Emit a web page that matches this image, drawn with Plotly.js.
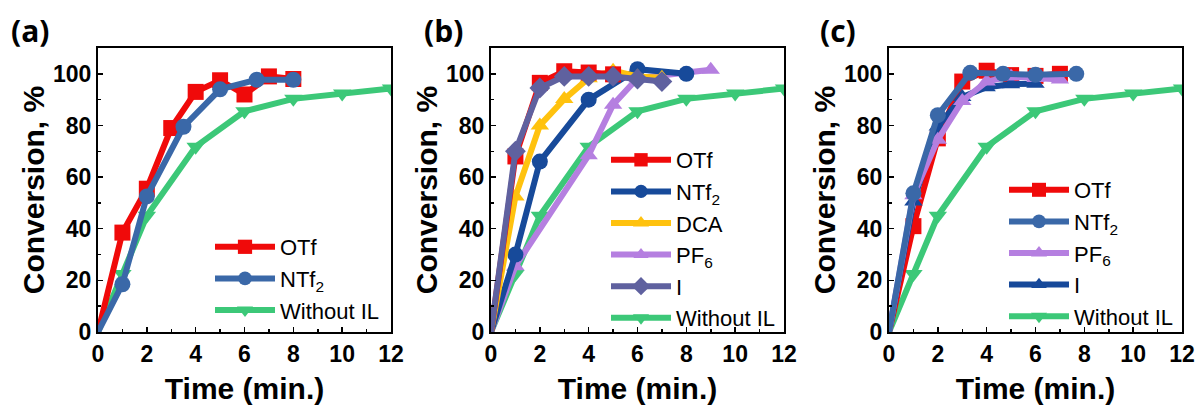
<!DOCTYPE html>
<html>
<head>
<meta charset="utf-8">
<script src="https://cdn.plot.ly/plotly-3.0.1.min.js"></script>
<style>
html,body{margin:0;padding:0;background:#fff;}
#chart{width:1198px;height:407px;}
</style>
</head>
<body>
<div id="chart"></div>
<script>
// ---------- Data ----------
// Panel (a)
const a_otf_t  = [0, 1, 2, 3, 4, 5, 6, 7, 8];
const a_otf_c  = [0, 38.5, 55.5, 79, 93, 97.5, 92, 99, 98];
const a_ntf_t  = [0, 1, 2, 3.5, 5, 6.5, 8];
const a_ntf_c  = [0, 18.5, 52.5, 79.5, 94, 97.7, 97.7];
// Without IL (same control in all panels)
const noil_t   = [0, 1, 2, 4, 6, 8, 10, 12];
const noil_c   = [0, 22.5, 45, 71.8, 85.5, 90.3, 92.4, 94.3];

// Panel (b)
const b_otf_t  = [0, 1, 2, 3, 4, 5];
const b_otf_c  = [0, 68, 96.5, 101, 100.5, 99.8];
const b_ntf_t  = [0, 1, 2, 4, 6, 8];
const b_ntf_c  = [0, 30, 66, 90, 101.8, 100];
const b_dca_t  = [0, 1, 2, 3, 4, 5, 6, 7];
const b_dca_c  = [0, 52.5, 80, 90.2, 98.3, 101.2, 99, 98.5];
const b_pf6_t  = [0, 1, 4, 5, 6, 9];
const b_pf6_c  = [0, 25.5, 68.5, 88, 98.3, 101.6];
const b_i_t    = [0, 1, 2, 3, 4, 5, 6, 7];
const b_i_c    = [0, 70, 94.5, 99, 99, 99, 98, 97];

// Panel (c)
const c_otf_t  = [0, 1, 2, 3, 4, 5, 6, 7];
const c_otf_c  = [0, 41, 75, 97, 101.2, 99.5, 99.2, 100];
const c_ntf_t  = [0, 1, 2, 3.33, 4.67, 6, 7.67];
const c_ntf_c  = [0, 53.7, 84, 100.4, 100, 99.6, 100];
const c_pf6_t  = [0, 1, 2, 3, 4, 5, 6, 7];
const c_pf6_c  = [0, 53, 74.5, 89.5, 97, 99, 98.4, 97.8];
const c_i_t    = [0, 1, 2, 3, 4, 5, 6];
const c_i_c    = [0, 50.5, 79.6, 91, 94.8, 96, 96.2];

const xTickVals = [0, 2, 4, 6, 8, 10, 12];
const yTickVals = [0, 20, 40, 60, 80, 100];

// ---------- Styles ----------
const RED = '#f00a0a', NAVY = '#174a9a', STEEL = '#3a68a8', YEL = '#ffc20e',
      LILAC = '#b57fe0', SLATE = '#5f619f', GREEN = '#3cc878', DBLUE = '#17499a';
const LW = 6, MS = 16;

function tr(x, y, name, color, symbol, xa, ya, leg, rank) {
  return {
    x: x, y: y, name: name, type: 'scatter', mode: 'lines+markers',
    xaxis: xa, yaxis: ya, legend: leg, legendrank: rank,
    line: {color: color, width: LW},
    // no marker drawn at the origin point, as in the reference
    marker: {color: color, symbol: symbol, opacity: 1, line: {width: 0},
             size: x.map(v => v === 0 ? 0 : MS)},
    cliponaxis: true
  };
}

const data = [
  // (a)
  tr(noil_t, noil_c, 'Without IL', GREEN, 'triangle-down', 'x', 'y', 'legend', 9),
  tr(a_otf_t, a_otf_c, 'OTf', RED, 'square', 'x', 'y', 'legend', 1),
  tr(a_ntf_t, a_ntf_c, 'NTf<sub>2</sub>', STEEL, 'circle', 'x', 'y', 'legend', 2),
  // (b)
  tr(noil_t, noil_c, 'Without IL', GREEN, 'triangle-down', 'x2', 'y2', 'legend2', 9),
  tr(b_pf6_t, b_pf6_c, 'PF<sub>6</sub>', LILAC, 'triangle-up', 'x2', 'y2', 'legend2', 4),
  tr(b_ntf_t, b_ntf_c, 'NTf<sub>2</sub>', NAVY, 'circle', 'x2', 'y2', 'legend2', 2),
  tr(b_dca_t, b_dca_c, 'DCA', YEL, 'triangle-up', 'x2', 'y2', 'legend2', 3),
  tr(b_otf_t, b_otf_c, 'OTf', RED, 'square', 'x2', 'y2', 'legend2', 1),
  tr(b_i_t, b_i_c, 'I', SLATE, 'diamond', 'x2', 'y2', 'legend2', 5),
  // (c)
  tr(noil_t, noil_c, 'Without IL', GREEN, 'triangle-down', 'x3', 'y3', 'legend3', 9),
  tr(c_otf_t, c_otf_c, 'OTf', RED, 'square', 'x3', 'y3', 'legend3', 1),
  tr(c_i_t, c_i_c, 'I', DBLUE, 'triangle-up', 'x3', 'y3', 'legend3', 4),
  tr(c_pf6_t, c_pf6_c, 'PF<sub>6</sub>', LILAC, 'triangle-up', 'x3', 'y3', 'legend3', 3),
  tr(c_ntf_t, c_ntf_c, 'NTf<sub>2</sub>', STEEL, 'circle', 'x3', 'y3', 'legend3', 2)
];

const W = 1198, H = 407;
const plotTop = 48, plotBottom = 332;
const yDom = [(H - plotBottom) / H, (H - plotTop) / H];
const panels = [[98, 391], [491, 784], [889, 1182]];

function tickFont() { return {family: 'Arial', size: 23, color: '#000', weight: 'bold'}; }
function titleFont() { return {family: 'Arial', size: 30, color: '#000', weight: 'bold'}; }

function xAxis(i) {
  return {
    domain: [panels[i][0] / W, panels[i][1] / W],
    anchor: i === 0 ? 'y' : 'y' + (i + 1),
    range: [0, 12], tickvals: xTickVals, ticktext: xTickVals.map(String),
    ticks: 'inside', ticklen: 5, tickwidth: 1.5, tickcolor: '#000',
    minor: {dtick: 1, tick0: 0, ticks: 'inside', ticklen: 3, tickcolor: '#000'},
    showline: true, linecolor: '#000', linewidth: 2, mirror: true,
    showgrid: false, zeroline: false, tickfont: tickFont(),
    title: {text: 'Time (min.)', font: titleFont(), standoff: 12},
    automargin: false, fixedrange: true
  };
}
function yAxis(i) {
  return {
    domain: yDom,
    anchor: i === 0 ? 'x' : 'x' + (i + 1),
    range: [0, 110], tickvals: yTickVals, ticktext: yTickVals.map(String),
    ticks: 'inside', ticklen: 5, tickwidth: 1.5, tickcolor: '#000',
    minor: {dtick: 10, tick0: 0, ticks: 'inside', ticklen: 3, tickcolor: '#000'},
    showline: true, linecolor: '#000', linewidth: 2, mirror: true,
    showgrid: false, zeroline: false, tickfont: tickFont(),
    title: {text: 'Conversion, %', font: titleFont(), standoff: 0},
    automargin: false, fixedrange: true
  };
}

function legendAt(xpx, ypx) {
  return {
    x: xpx / W, y: 1 - ypx / H, xanchor: 'left', yanchor: 'top',
    bgcolor: 'rgba(0,0,0,0)', borderwidth: 0,
    font: {family: 'Arial', size: 22, color: '#000'},
    itemwidth: 60, tracegroupgap: 0, traceorder: 'normal'
  };
}

const labelFont = {family: 'Open Sans', size: 30, color: '#000', weight: 'bold'};

const layout = {
  width: W, height: H,
  margin: {l: 0, r: 0, t: 0, b: 0},
  paper_bgcolor: '#fff', plot_bgcolor: '#fff',
  showlegend: true,
  xaxis: xAxis(0), yaxis: yAxis(0),
  xaxis2: xAxis(1), yaxis2: yAxis(1),
  xaxis3: xAxis(2), yaxis3: yAxis(2),
  legend: legendAt(210, 226),
  legend2: legendAt(606, 139),
  legend3: legendAt(1004, 169),
  annotations: [
    {text: '(a)', x: 9 / W, y: 1 - 8 / H, xref: 'paper', yref: 'paper', xanchor: 'left', yanchor: 'top', showarrow: false, font: labelFont},
    {text: '(b)', x: 422 / W, y: 1 - 8 / H, xref: 'paper', yref: 'paper', xanchor: 'left', yanchor: 'top', showarrow: false, font: labelFont},
    {text: '(c)', x: 818 / W, y: 1 - 8 / H, xref: 'paper', yref: 'paper', xanchor: 'left', yanchor: 'top', showarrow: false, font: labelFont}
  ]
};

Plotly.newPlot('chart', data, layout, {displayModeBar: false, staticPlot: true});
</script>
</body>
</html>
